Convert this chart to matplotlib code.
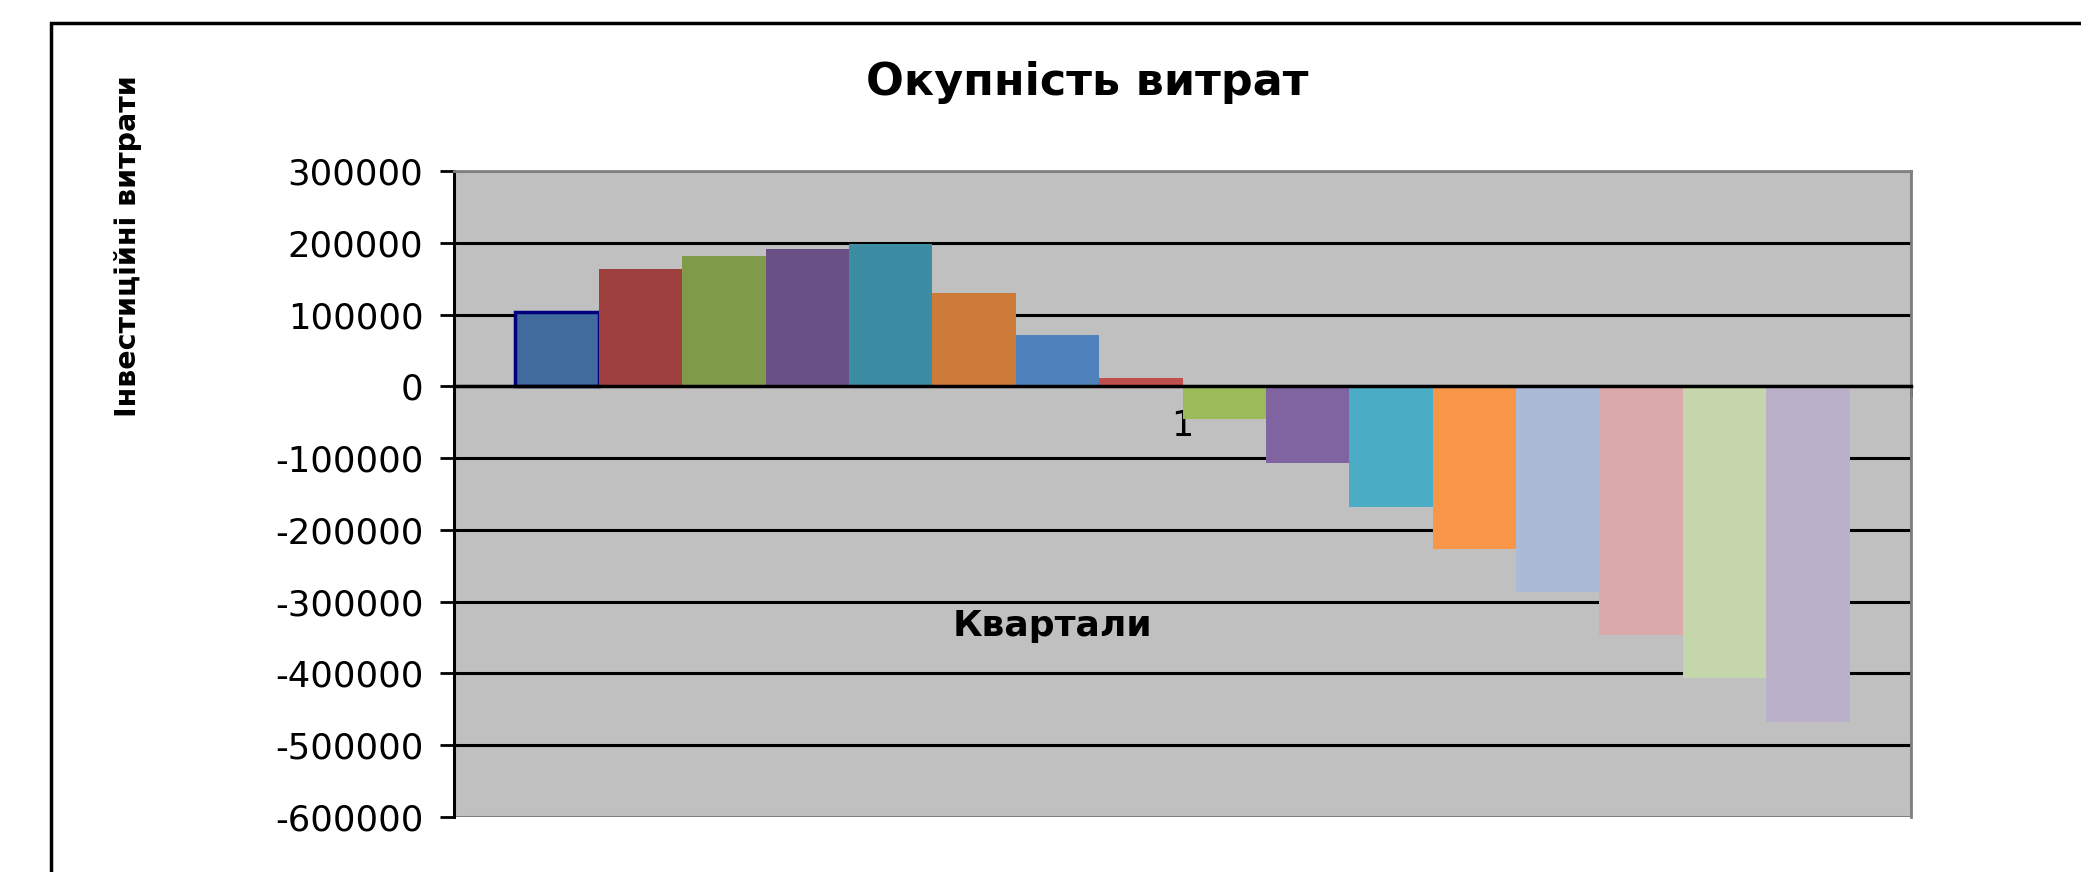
import matplotlib.pyplot as plt
import numpy as np
from matplotlib.patches import Rectangle

# cumulative cash balance per quarter
values = [104000, 164000, 181000, 191000, 198000, 130000, 72000, 11000,
          -46000, -107000, -168000, -227000, -287000, -346000, -406000, -467000]
colors = ["#416b9c", "#9e413e", "#7f9a48", "#695185", "#3c8da3", "#cc7b38",
          "#4f81bd", "#c0504d", "#9bbb59", "#8064a2", "#4bacc6", "#f79646",
          "#aabad7", "#d9aaa9", "#c6d6ac", "#bab0c9"]
category = "1"
yticks = list(range(-600000, 300001, 100000))

plt.rcParams["font.family"] = ["DejaVu Sans"]

W, H = 2081, 872
fig = plt.figure(figsize=(W / 100, H / 100), dpi=100)
ax = fig.add_axes([454 / W, 1 - 817 / H, (1911 - 454) / W, (817 - 171) / H])

n = len(values)
x = np.arange(n) - (n - 1) / 2
bars = ax.bar(x, values, width=1.0, color=colors, zorder=3)
bars[0].set_edgecolor("#00007f")
bars[0].set_linewidth(2.5)

half = n / 2 * 1.0919
ax.set_xlim(-half, half)
ax.set_ylim(yticks[0], yticks[-1])
ax.set_facecolor("#c0c0c0")
ax.set_axisbelow(True)

ax.set_yticks(yticks)
ax.set_yticklabels([str(v) for v in yticks])
ax.yaxis.grid(True, color="black", lw=2.2)
gl = ax.get_ygridlines()
gl[0].set_color("#808080")
gl[-1].set_color("#808080")
ax.tick_params(axis="y", direction="out", length=10, width=2, pad=12,
               labelsize=25.5, colors="black")

# category axis sits on the zero line
ax.spines["bottom"].set_position(("data", 0))
ax.spines["bottom"].set_linewidth(2.5)
ax.spines["bottom"].set_zorder(4)
ax.spines["left"].set_linewidth(2.2)
for s in ["top", "right"]:
    ax.spines[s].set_color("#808080")
    ax.spines[s].set_linewidth(2)
ax.add_patch(Rectangle((0, 0), 1, 1, transform=ax.transAxes, fill=False,
                       ec="#808080", lw=2, zorder=0.5))

ax.set_xticks([-half, half])
ax.set_xticklabels([])
ax.tick_params(axis="x", which="major", direction="out", length=8, width=2)
ax.set_xticks([0], minor=True)
ax.set_xticklabels([category], minor=True)
ax.tick_params(axis="x", which="minor", length=0, pad=16, labelsize=25)

fig.text(1087 / W, 1 - 82 / H, "Окупність витрат", ha="center", va="center",
         fontsize=32, fontweight="bold")
fig.text(128 / W, 1 - 246 / H, "Інвестиційні витрати", ha="center",
         va="center", rotation=90, fontsize=20.5, fontweight="bold")
fig.text(1052 / W, 1 - 626 / H, "Квартали", ha="center", va="center",
         fontsize=26, fontweight="bold")

# chart area frame (runs off the right and bottom edges)
fig.add_artist(Rectangle((51 / W, -0.1), 1.2, 1.1 - 23 / H,
                         transform=fig.transFigure, fill=False,
                         ec="black", lw=2.5))

fig.savefig("out.png", dpi=100, facecolor="white")
